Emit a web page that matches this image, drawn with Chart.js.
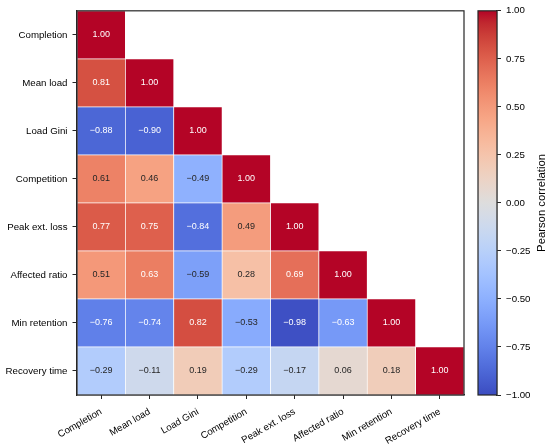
<!DOCTYPE html>
<html><head><meta charset="utf-8">
<script src="https://cdn.jsdelivr.net/npm/chart.js@4.4.0/dist/chart.umd.min.js"></script>
<style>
html,body{margin:0;padding:0;background:#fff;}
#wrap{position:relative;width:550px;height:448px;overflow:hidden;}
#main{position:absolute;left:0;top:0;width:470px;height:448px;}
#cb{position:absolute;left:470px;top:0;width:80px;height:448px;}
</style></head><body>
<div id="wrap"><div id="main"><canvas id="c1"></canvas></div><div id="cb"><canvas id="c2"></canvas></div></div>
<script>
// ---- data ----
const variables = ['Completion','Mean load','Load Gini','Competition','Peak ext. loss','Affected ratio','Min retention','Recovery time'];
const rowCompletion    = [1.00];
const rowMeanLoad      = [0.81, 1.00];
const rowLoadGini      = [-0.88, -0.90, 1.00];
const rowCompetition   = [0.61, 0.46, -0.49, 1.00];
const rowPeakExtLoss   = [0.77, 0.75, -0.84, 0.49, 1.00];
const rowAffectedRatio = [0.51, 0.63, -0.59, 0.28, 0.69, 1.00];
const rowMinRetention  = [-0.76, -0.74, 0.82, -0.53, -0.98, -0.63, 1.00];
const rowRecoveryTime  = [-0.29, -0.11, 0.19, -0.29, -0.17, 0.06, 0.18, 1.00];
const corrRows = [rowCompletion, rowMeanLoad, rowLoadGini, rowCompetition, rowPeakExtLoss, rowAffectedRatio, rowMinRetention, rowRecoveryTime];
const colorbarTicks = [-1.00, -0.75, -0.50, -0.25, 0.00, 0.25, 0.50, 0.75, 1.00];
const colorbarLabel = 'Pearson correlation';

// ---- coolwarm colormap (Moreland) ----
const CW = [[59,76,192],[68,90,204],[77,104,215],[87,117,225],[98,130,234],[108,142,241],[119,154,247],[130,165,251],[141,176,254],[152,185,255],[163,194,255],[174,201,253],[184,208,249],[194,213,244],[204,217,238],[213,219,230],[221,221,221],[229,216,209],[236,211,197],[241,204,184],[245,196,172],[247,187,159],[247,177,147],[247,166,134],[244,154,123],[241,141,111],[236,127,99],[229,112,89],[222,96,77],[213,80,66],[203,62,56],[192,40,47],[180,4,38]];
function coolwarm(v){
  let t = (v + 1) / 2; t = Math.max(0, Math.min(1, t));
  const p = t * (CW.length - 1); const i = Math.min(CW.length - 2, Math.floor(p)); const f = p - i;
  const a = CW[i], b = CW[i+1];
  return 'rgb(' + a.map((x,k)=>Math.round(x + (b[k]-x)*f)).join(',') + ')';
}
const fmt = v => v.toFixed(2).replace('-', '\u2212');
const FONT = 'Liberation Sans, Arial, Helvetica, sans-serif';
const AX = '#262626';

const annotate = {
  id: 'annotate',
  afterDatasetsDraw(chart){
    const {ctx, scales:{x, y}} = chart;
    ctx.save();
    ctx.font = '9px ' + FONT;
    ctx.textAlign = 'center'; ctx.textBaseline = 'middle';
    corrRows.forEach((row, r) => row.forEach((v, c) => {
      ctx.fillStyle = Math.abs(v) >= 0.62 ? '#ffffff' : '#262626';
      ctx.fillText(fmt(v), x.getPixelForValue(c), y.getPixelForValue(r + 0.5));
    }));
    ctx.restore();
  }
};
const frame = {
  id: 'frame',
  afterDraw(chart){
    const {ctx, chartArea:a} = chart;
    ctx.save(); ctx.strokeStyle = AX; ctx.lineWidth = 1.2;
    ctx.strokeRect(a.left, a.top, a.right - a.left, a.bottom - a.top);
    ctx.restore();
  }
};

new Chart(document.getElementById('c1'), {
  type: 'bar',
  data: {
    labels: variables,
    datasets: corrRows.map((row, r) => ({
      data: variables.map((_, c) => c < row.length ? [r, r + 1] : null),
      backgroundColor: variables.map((_, c) => c < row.length ? coolwarm(row[c]) : 'rgba(0,0,0,0)'),
      borderColor: '#ffffff', borderWidth: 0.7, borderSkipped: false,
      grouped: false, categoryPercentage: 1, barPercentage: 1
    }))
  },
  options: {
    responsive: true, maintainAspectRatio: false, animation: false,
    layout: {padding: {top: 8, right: 6, left: 0, bottom: 0}},
    plugins: {legend: {display: false}, tooltip: {enabled: false}},
    scales: {
      x: {
        type: 'category', offset: true,
        grid: {offset: false, drawOnChartArea: false, drawTicks: true, tickLength: 4, tickColor: AX, tickWidth: 1},
        border: {display: true, color: AX, width: 1.2},
        ticks: {autoSkip: false, maxRotation: 30, minRotation: 30, padding: 7, color: '#000', font: {family: FONT, size: 9.7}},
        afterFit: s => { s.height = 53; }
      },
      y: {
        type: 'linear', min: 0, max: 8, reverse: true,
        afterBuildTicks: s => { s.ticks = variables.map((_, i) => ({value: i + 0.5})); },
        grid: {drawOnChartArea: false, drawTicks: true, tickLength: 4.5, tickColor: AX, tickWidth: 1},
        border: {display: true, color: AX, width: 1.2},
        ticks: {padding: 5, color: '#000', font: {family: FONT, size: 9.7}, callback: (v, i) => variables[i]},
        afterFit: s => { s.width = 77; }
      }
    }
  },
  plugins: [annotate, frame]
});

const cbTitle = {
  id: 'cbTitle',
  afterDraw(chart){
    const {ctx, chartArea:a} = chart;
    ctx.save();
    ctx.strokeStyle = AX; ctx.lineWidth = 1.2;
    ctx.strokeRect(a.left, a.top, a.right - a.left, a.bottom - a.top);
    ctx.translate(72, (a.top + a.bottom) / 2);
    ctx.rotate(-Math.PI / 2);
    ctx.font = '11.3px ' + FONT; ctx.fillStyle = '#000';
    ctx.textAlign = 'center'; ctx.textBaseline = 'middle';
    ctx.fillText(colorbarLabel, 0, 0);
    ctx.restore();
  }
};

new Chart(document.getElementById('c2'), {
  type: 'bar',
  data: {
    labels: [''],
    datasets: [{
      data: [[colorbarTicks[0], colorbarTicks[colorbarTicks.length - 1]]],
      backgroundColor: ctx => {
        const a = ctx.chart.chartArea; if (!a) return 'rgba(0,0,0,0)';
        const g = ctx.chart.ctx.createLinearGradient(0, a.bottom, 0, a.top);
        CW.forEach((c, i) => g.addColorStop(i / (CW.length - 1), 'rgb(' + c.join(',') + ')'));
        return g;
      },
      borderWidth: 0, categoryPercentage: 1, barPercentage: 1
    }]
  },
  options: {
    responsive: true, maintainAspectRatio: false, animation: false,
    layout: {padding: {top: 8, left: 8, right: 0, bottom: 53}},
    plugins: {legend: {display: false}, tooltip: {enabled: false}},
    scales: {
      x: {display: false},
      y: {
        position: 'right', min: -1, max: 1,
        afterBuildTicks: s => { s.ticks = colorbarTicks.map(v => ({value: v})); },
        grid: {drawOnChartArea: false, drawTicks: true, tickLength: 4, tickColor: AX, tickWidth: 1},
        border: {display: true, color: AX, width: 1.2},
        ticks: {padding: 5, color: '#000', font: {family: FONT, size: 9.7}, callback: v => fmt(v)},
        afterFit: s => { s.width = 53; }
      }
    }
  },
  plugins: [cbTitle]
});
</script>
</body></html>
